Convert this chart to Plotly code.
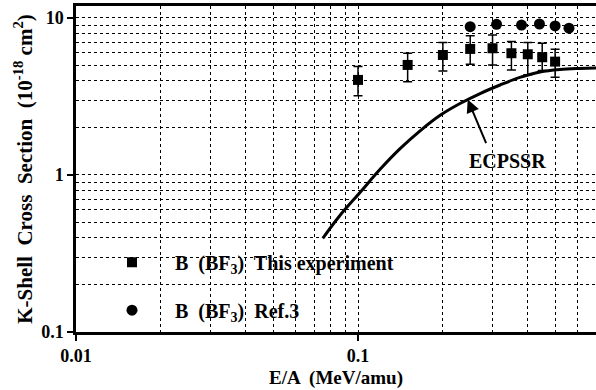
import plotly.graph_objects as go
import math

# ---- data ----
exp_x = [0.10, 0.15, 0.20, 0.25, 0.30, 0.35, 0.40, 0.45, 0.50]
exp_y = [4.03, 5.02, 5.81, 6.35, 6.41, 5.96, 5.87, 5.62, 5.27]
exp_hi = [4.90, 5.96, 6.97, 7.71, 7.79, 7.07, 6.97, 6.90, 6.32]
exp_lo = [3.20, 3.93, 4.59, 5.07, 5.02, 4.66, 4.34, 4.62, 4.19]

ref_x = [0.25, 0.31, 0.38, 0.44, 0.50, 0.56]
ref_y = [8.80, 9.10, 9.00, 9.15, 8.90, 8.60]

th_x = [0.075, 0.086, 0.102, 0.120, 0.141, 0.166, 0.195, 0.230, 0.271, 0.319,
        0.375, 0.442, 0.520, 0.612, 0.700]
th_y = [0.395, 0.548, 0.779, 1.09, 1.47, 1.91, 2.39, 2.85, 3.30, 3.74,
        4.18, 4.53, 4.70, 4.77, 4.80]

exp_name = "B  (BF<sub>3</sub>)  This experiment"
ref_name = "B  (BF<sub>3</sub>)  Ref.3"
curve_label = "ECPSSR"
x_title = "E/A  (MeV/amu)"
y_title = "K-Shell  Cross  Section  (10<sup>-18</sup> cm<sup>2</sup>)"

# annotation anchor points (data units)
arrow_tip = (0.245, 3.02)
label_pos = (0.340, 1.23)

FONT = "Liberation Serif"

err_plus = [h - y for h, y in zip(exp_hi, exp_y)]
err_minus = [y - l for y, l in zip(exp_y, exp_lo)]

fig = go.Figure()

fig.add_trace(go.Scatter(
    x=th_x, y=th_y, mode="lines",
    line=dict(color="black", width=3, shape="spline", smoothing=1.0),
    showlegend=False, hoverinfo="skip"))

fig.add_trace(go.Scatter(
    x=exp_x, y=exp_y, mode="markers", name=exp_name, legendgroup="a",
    marker=dict(symbol="square", size=10, color="black"),
    error_y=dict(type="data", array=err_plus, arrayminus=err_minus,
                 color="black", thickness=1.5, width=4.5)))

fig.add_trace(go.Scatter(
    x=ref_x, y=ref_y, mode="markers", name=ref_name, legendgroup="b",
    marker=dict(symbol="circle", size=11, color="black")))

fig.add_annotation(x=math.log10(arrow_tip[0]), y=math.log10(arrow_tip[1]), text="",
                   showarrow=True, ax=19, ay=45, arrowhead=2, arrowsize=1.3,
                   arrowwidth=2, arrowcolor="black")
fig.add_annotation(x=math.log10(label_pos[0]), y=math.log10(label_pos[1]),
                   text="<b>%s</b>" % curve_label,
                   showarrow=False, font=dict(family=FONT, size=20, color="black"),
                   xanchor="center", yanchor="middle")

grid = dict(showgrid=True, gridcolor="black", griddash="dot", gridwidth=1)
minor = dict(dtick="D1", showgrid=True, gridcolor="black", griddash="dot",
             gridwidth=1, ticks="")
tickfont = dict(family=FONT, size=18, color="black")

fig.update_xaxes(
    type="log", range=[-2, -0.156], dtick=1, tick0=0,
    ticks="outside", ticklen=6, tickwidth=2, tickcolor="black",
    tickprefix="<b>", ticksuffix="</b>",
    showline=True, linewidth=2.5, linecolor="black", mirror=True,
    zeroline=False, **grid, minor=minor, tickfont=tickfont,
    title=dict(text="<b>%s</b>" % x_title, font=dict(family=FONT, size=19, color="black"),
               standoff=6),
)
fig.update_yaxes(
    type="log", range=[-1, 1.076], dtick=1, tick0=0,
    ticks="outside", ticklen=6, tickwidth=2, tickcolor="black",
    tickprefix="<b>", ticksuffix="</b>",
    showline=True, linewidth=2.5, linecolor="black", mirror=False,
    zeroline=False, **grid, minor=minor, tickfont=tickfont,
    title=dict(text="<b>%s</b>" % y_title, font=dict(family=FONT, size=21, color="black"),
               standoff=3),
)

fig.update_layout(
    width=596, height=390,
    margin=dict(l=76, r=0, t=6, b=58, autoexpand=False),
    paper_bgcolor="white", plot_bgcolor="white",
    font=dict(family=FONT, size=18, color="black"),
    showlegend=True,
    legend=dict(x=0.025, y=0.274, xanchor="left", yanchor="top",
                bgcolor="rgba(0,0,0,0)", borderwidth=0,
                traceorder="grouped", tracegroupgap=19, itemwidth=76,
                font=dict(family=FONT, size=20, color="black", weight="bold")),
)

fig.write_html("out.html")
